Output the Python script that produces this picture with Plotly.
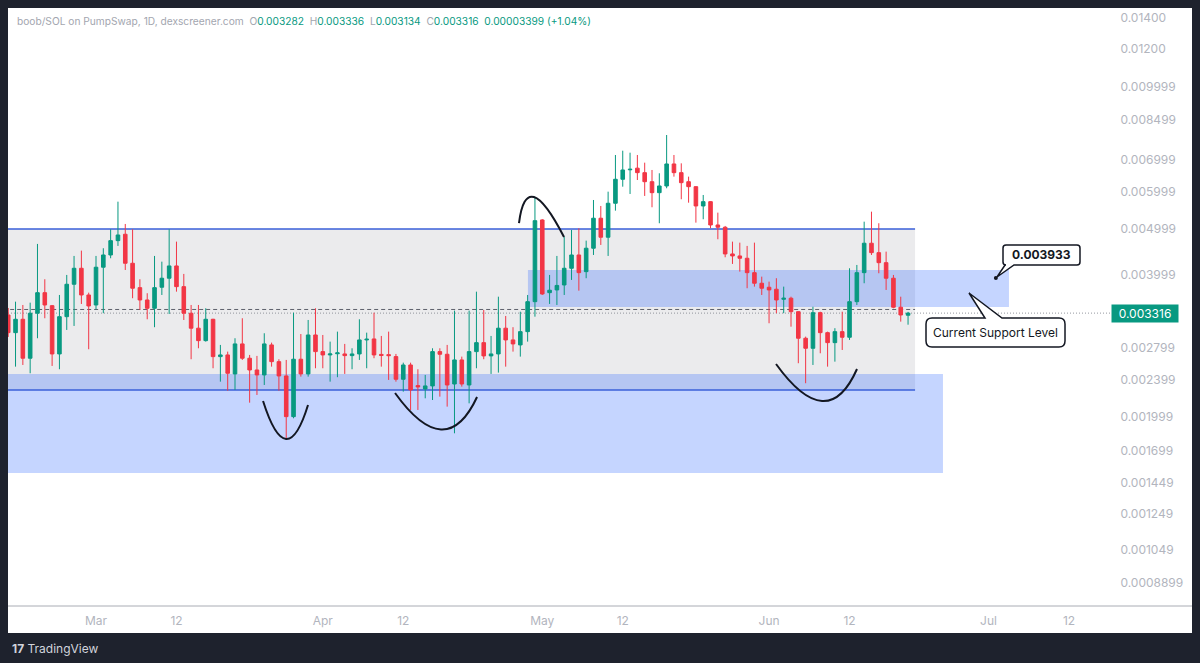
import math
import pandas as pd
import plotly.graph_objects as go

# ---------------- data ----------------
pair_title = "boob/SOL on PumpSwap, 1D, dexscreener.com"
header_ohlc = [("O", "0.003282"), ("H", "0.003336"), ("L", "0.003134"), ("C", "0.003316")]
header_change = "0.00003399 (+1.04%)"

dates = pd.date_range("2025-02-17", periods=124, freq="D")

opens = [0.003286, 0.003015, 0.003218, 0.002662, 0.003314, 0.003663, 0.003438, 0.002718, 0.003259, 0.003816,
         0.004125, 0.003622, 0.003450, 0.004146, 0.004401, 0.004719, 0.004868, 0.004227, 0.003754, 0.003535,
         0.003395, 0.003761, 0.003930, 0.004172, 0.003772, 0.003314, 0.003081, 0.002900, 0.003218, 0.002683,
         0.002705, 0.002466, 0.002854, 0.002662, 0.002514, 0.002454, 0.002840, 0.002618, 0.002442, 0.002003,
         0.002649, 0.002466, 0.002981, 0.002749, 0.002705, 0.002721, 0.002718, 0.002696, 0.002718, 0.002910,
         0.002924, 0.002712, 0.002709, 0.002683, 0.002403, 0.002576, 0.002330, 0.002292, 0.002326, 0.002749,
         0.002714, 0.002348, 0.002640, 0.002337, 0.002749, 0.002872, 0.002692, 0.002718, 0.003081, 0.002910,
         0.002840, 0.003030, 0.003506, 0.005219, 0.003663, 0.003712, 0.003803, 0.004125, 0.004401, 0.004058,
         0.004548, 0.005263, 0.004798, 0.005661, 0.006362, 0.006663, 0.006716, 0.006571, 0.006288, 0.005961,
         0.006158, 0.006855, 0.006571, 0.006288, 0.006137, 0.005587, 0.005705, 0.005093, 0.005037, 0.004423,
         0.004380, 0.004331, 0.004038, 0.003835, 0.003761, 0.003725, 0.003547, 0.003565, 0.003339, 0.002934,
         0.002794, 0.003323, 0.003015, 0.002872, 0.003030, 0.002948, 0.003506, 0.004038, 0.004660, 0.004451,
         0.004239, 0.003930, 0.003412, 0.003282]
highs = [0.003400, 0.003506, 0.003450, 0.003489, 0.004644, 0.003910, 0.003450, 0.003622, 0.003993, 0.004380,
         0.004495, 0.003663, 0.004380, 0.004548, 0.004988, 0.005705, 0.005118, 0.004988, 0.003910, 0.003653,
         0.004380, 0.004260, 0.004988, 0.004696, 0.004013, 0.003450, 0.003450, 0.003395, 0.003225, 0.002840,
         0.002749, 0.002934, 0.003234, 0.002705, 0.002692, 0.003006, 0.002872, 0.002649, 0.002640, 0.003323,
         0.002995, 0.003207, 0.003395, 0.002981, 0.002886, 0.003030, 0.002854, 0.002794, 0.003218, 0.003015,
         0.003323, 0.002967, 0.003030, 0.002718, 0.002605, 0.002605, 0.002523, 0.002454, 0.002794, 0.002794,
         0.002840, 0.003356, 0.002683, 0.003356, 0.003681, 0.003367, 0.002967, 0.003592, 0.003270, 0.003096,
         0.003339, 0.003622, 0.005829, 0.005240, 0.003993, 0.004380, 0.004812, 0.004971, 0.005012, 0.004719,
         0.005752, 0.005587, 0.005990, 0.007161, 0.007312, 0.007242, 0.007161, 0.006898, 0.006657, 0.006551,
         0.007893, 0.007161, 0.006876, 0.006444, 0.006150, 0.005894, 0.005720, 0.005408, 0.005069, 0.004696,
         0.004673, 0.004599, 0.004673, 0.003960, 0.003865, 0.003930, 0.003772, 0.003592, 0.003345, 0.002957,
         0.003420, 0.003339, 0.003030, 0.003081, 0.003339, 0.004125, 0.004192, 0.005176, 0.005434, 0.005136,
         0.004473, 0.003993, 0.003592, 0.003336]
lows = [0.002953, 0.002555, 0.002576, 0.002474, 0.002934, 0.003234, 0.002564, 0.002523, 0.003055, 0.003115,
        0.003467, 0.002781, 0.003379, 0.003314, 0.004331, 0.004599, 0.004091, 0.003565, 0.003367, 0.003218,
        0.003096, 0.003622, 0.003302, 0.003681, 0.003207, 0.002649, 0.002794, 0.002886, 0.002535, 0.002375,
        0.002273, 0.002281, 0.002640, 0.002144, 0.002226, 0.002337, 0.002555, 0.002273, 0.001803, 0.001987,
        0.002434, 0.002434, 0.002535, 0.002535, 0.002375, 0.002427, 0.002466, 0.002523, 0.002640, 0.002535,
        0.002662, 0.002555, 0.002395, 0.002375, 0.002262, 0.002069, 0.002069, 0.002190, 0.002172, 0.002208,
        0.002103, 0.001847, 0.002318, 0.002137, 0.002535, 0.002649, 0.002466, 0.002482, 0.002555, 0.002749,
        0.002683, 0.002886, 0.003259, 0.003622, 0.003467, 0.003450, 0.003622, 0.003897, 0.003699, 0.003930,
        0.004401, 0.004621, 0.004380, 0.005461, 0.006137, 0.005923, 0.006340, 0.005866, 0.005552, 0.005136,
        0.006090, 0.006444, 0.005772, 0.005677, 0.005151, 0.005237, 0.005012, 0.004751, 0.004352, 0.004213,
        0.004058, 0.003743, 0.003772, 0.003622, 0.003156, 0.003314, 0.003314, 0.003104, 0.002598, 0.002357,
        0.002576, 0.002727, 0.002555, 0.002618, 0.002771, 0.002910, 0.003450, 0.003835, 0.004401, 0.004026,
        0.003712, 0.003395, 0.003181, 0.003134]
closes = [0.003015, 0.003218, 0.002662, 0.003314, 0.003663, 0.003450, 0.002718, 0.003259, 0.003816, 0.004125,
          0.003622, 0.003433, 0.004146, 0.004401, 0.004719, 0.004851, 0.004227, 0.003743, 0.003535, 0.003395,
          0.003754, 0.003930, 0.004172, 0.003772, 0.003314, 0.003081, 0.002900, 0.003218, 0.002683, 0.002705,
          0.002474, 0.002854, 0.002662, 0.002514, 0.002454, 0.002854, 0.002618, 0.002442, 0.002003, 0.002649,
          0.002466, 0.002981, 0.002749, 0.002705, 0.002718, 0.002732, 0.002696, 0.002718, 0.002910, 0.002920,
          0.002705, 0.002699, 0.002696, 0.002403, 0.002576, 0.002281, 0.002315, 0.002326, 0.002749, 0.002714,
          0.002337, 0.002640, 0.002348, 0.002749, 0.002872, 0.002692, 0.002718, 0.003081, 0.002910, 0.002854,
          0.003030, 0.003506, 0.005201, 0.003640, 0.003707, 0.003794, 0.004125, 0.004401, 0.004038, 0.004548,
          0.005263, 0.004798, 0.005661, 0.006362, 0.006657, 0.006680, 0.006571, 0.006288, 0.005961, 0.006158,
          0.006855, 0.006571, 0.006258, 0.006137, 0.005587, 0.005705, 0.005093, 0.005037, 0.004423, 0.004380,
          0.004331, 0.004038, 0.003835, 0.003743, 0.003712, 0.003535, 0.003565, 0.003339, 0.002934, 0.002794,
          0.003323, 0.003015, 0.002872, 0.003030, 0.002948, 0.003506, 0.004038, 0.004660, 0.004451, 0.004239,
          0.003930, 0.003412, 0.003286, 0.003316]

price_ticks = [0.014, 0.012, 0.009999, 0.008499, 0.006999, 0.005999, 0.004999, 0.003999,
               0.002799, 0.002399, 0.001999, 0.001699, 0.001449, 0.001249, 0.001049, 0.0008899]
price_tick_text = ["0.01400", "0.01200", "0.009999", "0.008499", "0.006999", "0.005999", "0.004999", "0.003999",
                   "0.002799", "0.002399", "0.001999", "0.001699", "0.001449", "0.001249", "0.001049", "0.0008899"]
date_ticks = ["2025-03-01", "2025-03-12", "2025-04-01", "2025-04-12", "2025-05-01",
              "2025-05-12", "2025-06-01", "2025-06-12", "2025-07-01", "2025-07-12"]
date_tick_text = ["Mar", "12", "Apr", "12", "May", "12", "Jun", "12", "Jul", "12"]

# drawn levels / zones
resistance_level = 0.004994
support_level = 0.002280
lower_zone = (0.001522, 0.002465)
mid_zone = (0.003416, 0.004090)
dashed_level = 0.003375
callout_price = 0.003933
callout_date = "2025-07-02"
box_start = "2025-02-01"
range_end = "2025-06-20 23:00"
lower_zone_end = "2025-06-24 18:30"
mid_zone_start, mid_zone_end = "2025-04-29 01:00", "2025-07-03 19:00"

# hand-drawn arcs: (start, control, end) as (date, price)
arcs = [
    (("2025-03-23 20:00", 0.002162), ("2025-03-27 01:00", 0.001508), ("2025-03-29 23:30", 0.002120)),
    (("2025-04-10 21:00", 0.002247), ("2025-04-17 20:00", 0.001591), ("2025-04-22 02:00", 0.002204)),
    (("2025-04-27 19:40", 0.005141), ("2025-04-28 20:10", 0.006852), ("2025-05-03 23:15", 0.004803)),
    (("2025-06-01 22:50", 0.002588), ("2025-06-09 00:00", 0.001827), ("2025-06-13 00:30", 0.002526)),
]

# ---------------- layout geometry ----------------
W, H = 1200, 663
PL, PR, PT, PB = 8, 1111, 8, 606   # plot area in pixels


def paper(px, py):
    return (px - PL) / (PR - PL), (PB - py) / (PB - PT)


def rounded_path(x0, y0, x1, y1, r, tail=None, tail_side="top"):
    def P(x, y):
        a, b = paper(x, y)
        return f"{a:.5f},{b:.5f}"

    s = f"M{P(x0 + r, y0)} "
    if tail and tail_side == "top":
        (ta, tb, apx, apy) = tail
        s += f"L{P(ta, y0)} L{P(apx, apy)} L{P(tb, y0)} "
    s += f"L{P(x1 - r, y0)} Q{P(x1, y0)} {P(x1, y0 + r)} "
    s += f"L{P(x1, y1 - r)} Q{P(x1, y1)} {P(x1 - r, y1)} "
    if tail and tail_side == "bottom":
        (ta, tb, apx, apy) = tail
        s += f"L{P(tb, y1)} L{P(apx, apy)} L{P(ta, y1)} "
    s += f"L{P(x0 + r, y1)} Q{P(x0, y1)} {P(x0, y1 - r)} "
    s += f"L{P(x0, y0 + r)} Q{P(x0, y0)} {P(x0 + r, y0)} Z"
    return s


GREEN = "#089981"
RED = "#F23645"
BLUE_LINE = "#3a5fd8"
AXIS_TXT = "#b2b5be"
FONT = "Inter"

fig = go.Figure()
fig.add_trace(go.Candlestick(
    x=dates, open=opens, high=highs, low=lows, close=closes,
    increasing=dict(line=dict(color=GREEN, width=1), fillcolor=GREEN),
    decreasing=dict(line=dict(color=RED, width=1), fillcolor=RED),
    whiskerwidth=0, hoverinfo="skip", showlegend=False,
))
fig.add_trace(go.Scatter(x=[callout_date], y=[callout_price], mode="markers",
                         marker=dict(size=4, color="#131722"), hoverinfo="skip", showlegend=False))

shapes = []
# white chart panel
px0, py0 = paper(8, 633)
px1, py1 = paper(1192, 8)
shapes.append(dict(type="rect", xref="paper", yref="paper", x0=px0, x1=px1, y0=py0, y1=py1,
                   fillcolor="white", line=dict(width=0), layer="below"))
# zones
shapes.append(dict(type="rect", xref="x", yref="y", x0=box_start, x1=range_end,
                   y0=support_level, y1=resistance_level,
                   fillcolor="rgba(120,123,134,0.15)", line=dict(width=0), layer="below"))
shapes.append(dict(type="rect", xref="x", yref="y", x0=box_start, x1=lower_zone_end,
                   y0=lower_zone[0], y1=lower_zone[1],
                   fillcolor="rgba(41,98,255,0.27)", line=dict(width=0), layer="below"))
shapes.append(dict(type="rect", xref="x", yref="y", x0=mid_zone_start, x1=mid_zone_end,
                   y0=mid_zone[0], y1=mid_zone[1],
                   fillcolor="rgba(41,98,255,0.27)", line=dict(width=0), layer="below"))
# horizontal levels
for lvl in (resistance_level, support_level):
    shapes.append(dict(type="line", xref="x", yref="y", x0=box_start, x1=range_end, y0=lvl, y1=lvl,
                       line=dict(color=BLUE_LINE, width=1.6), layer="below"))
shapes.append(dict(type="line", xref="x", yref="y", x0=box_start, x1=range_end, y0=dashed_level, y1=dashed_level,
                   line=dict(color="#5d606b", width=1, dash="4px,3px"), layer="below"))
shapes.append(dict(type="line", xref="paper", yref="y", x0=0, x1=1, y0=closes[-1], y1=closes[-1],
                   line=dict(color="#9598a1", width=1, dash="1px,2px"), layer="below"))
# x axis line across panel
ax0, ay0 = paper(8, 606)
ax1, _ = paper(1192, 606)
shapes.append(dict(type="line", xref="paper", yref="paper", x0=ax0, x1=ax1, y0=ay0, y1=ay0,
                   line=dict(color="#a9acb4", width=1), layer="above"))
# arcs
for (d0, p0), (dc, pc), (d2, p2) in arcs:
    f = lambda d: d.replace(" ", "_")
    shapes.append(dict(type="path", xref="x", yref="y",
                       path=f"M{f(d0)},{p0} Q{f(dc)},{pc} {f(d2)},{p2}",
                       line=dict(color="#131722", width=2), layer="above"))
# callout boxes
shapes.append(dict(type="path", xref="paper", yref="paper",
                   path=rounded_path(1003, 245, 1080, 265, 3, tail=(1005, 1014, 997, 277), tail_side="bottom"),
                   fillcolor="white", line=dict(color="#131722", width=1.5), layer="above"))
shapes.append(dict(type="path", xref="paper", yref="paper",
                   path=rounded_path(926, 318, 1065, 347, 6, tail=(985, 1002, 969, 293), tail_side="top"),
                   fillcolor="white", line=dict(color="#131722", width=1.5), layer="above"))

annotations = []
# header
gray = "#a3a6af"
parts = [f'<span style="color:{gray}">{pair_title}</span>&nbsp;&nbsp;']
for k, v in header_ohlc:
    parts.append(f'<span style="color:{gray}">{k}</span><span style="color:{GREEN}">{v}</span>&nbsp;&nbsp;')
parts.append(f'<span style="color:{GREEN}">{header_change}</span>')
hx, hy = paper(15, 21)
annotations.append(dict(xref="paper", yref="paper", x=hx, y=hy, xanchor="left", yanchor="middle",
                        text="".join(parts), showarrow=False, font=dict(family=FONT, size=10.2)))
# callout texts
cx, cy = paper(1041.5, 255)
annotations.append(dict(xref="paper", yref="paper", x=cx, y=cy, xanchor="center", yanchor="middle",
                        text=f"<b>{callout_price:.6f}</b>",
                        showarrow=False, font=dict(family=FONT, size=12, color="#131722")))
sx, sy = paper(995.5, 332.5)
annotations.append(dict(xref="paper", yref="paper", x=sx, y=sy, xanchor="center", yanchor="middle",
                        text="Current Support Level",
                        showarrow=False, font=dict(family=FONT, size=12, color="#131722")))
# last price tag
annotations.append(dict(xref="paper", yref="y", x=1.0, y=math.log10(closes[-1]), xanchor="left",
                        yanchor="middle", text=f"{closes[-1]:.6f}", showarrow=False,
                        bgcolor=GREEN, borderpad=2, width=62, height=13,
                        font=dict(family=FONT, size=12, color="white")))
# TradingView logo
lx, ly = paper(10, 648)
annotations.append(dict(xref="paper", yref="paper", x=lx, y=ly, xanchor="left", yanchor="middle",
                        text="<b>17</b> TradingView", showarrow=False,
                        font=dict(family=FONT, size=12, color="#d1d4dc")))

ylo = math.log10(0.014) - (PB - 17.3) / 472.9
yhi = math.log10(0.014) + (17.3 - PT) / 472.9

fig.update_layout(
    width=W, height=H,
    margin=dict(l=PL, r=W - PR, t=PT, b=H - PB),
    paper_bgcolor="#1e222d", plot_bgcolor="rgba(0,0,0,0)",
    shapes=shapes, annotations=annotations,
    showlegend=False, hovermode=False,
    font=dict(family=FONT),
    xaxis=dict(type="date", range=["2025-02-16 23:17", "2025-07-17 17:46"],
               tickvals=date_ticks, ticktext=date_tick_text,
               showgrid=False, zeroline=False, showline=False,
               ticks="outside", ticklen=4, tickcolor="rgba(0,0,0,0)",
               tickfont=dict(family=FONT, size=12, color=AXIS_TXT),
               rangeslider=dict(visible=False), fixedrange=True),
    yaxis=dict(type="log", side="right", range=[ylo, yhi],
               tickvals=price_ticks, ticktext=price_tick_text,
               showgrid=False, zeroline=False, showline=False,
               ticks="outside", ticklen=6, tickcolor="rgba(0,0,0,0)",
               tickfont=dict(family=FONT, size=12, color=AXIS_TXT), fixedrange=True),
)

fig.write_html("out.html", config={"displayModeBar": False})
